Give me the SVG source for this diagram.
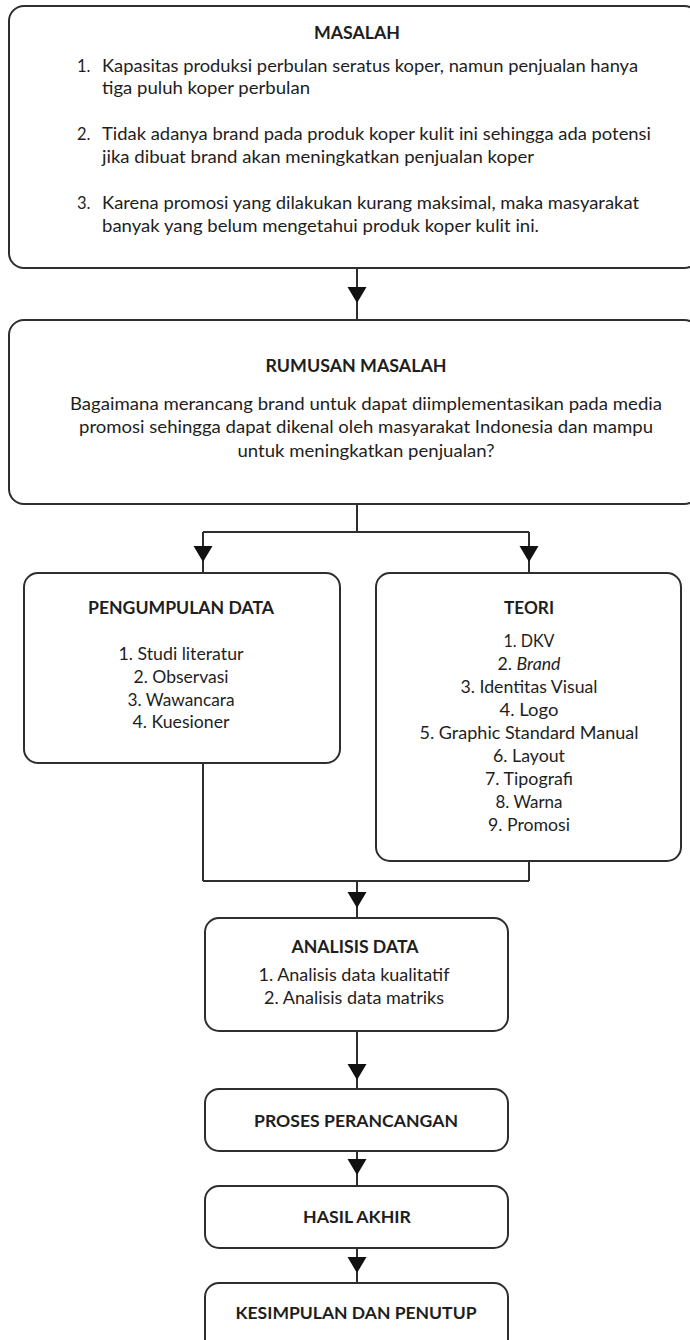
<svg xmlns="http://www.w3.org/2000/svg" xmlns:xlink="http://www.w3.org/1999/xlink" width="690" height="1340" viewBox="0 0 690 1340">
<style>
.box{fill:#fff;stroke:#2e2e2e;stroke-width:2}
.ln{fill:none;stroke:#2e2e2e;stroke-width:2}
.ah{fill:#111}
text{font-family:Lato,"Open Sans","Liberation Sans",sans-serif;fill:#1e1e1e}
.t{font-weight:bold;font-size:16.5px;text-anchor:middle}
.b{font-size:16.5px}
.c{font-size:16.5px;text-anchor:middle}
.c2{font-size:17px;text-anchor:middle}
</style>
<defs>
<path id="arrow" class="ah" d="M-9.5,-16 L9.5,-16 L0,0 Z"/>
</defs>
<rect width="690" height="1340" fill="#fff"/>

<g id="connectors">
<path class="ln" d="M357,268 V320"/>
<use xlink:href="#arrow" x="357" y="303"/>
<path class="ln" d="M357,504 V532 M203,532 H529 M203,532 V573 M529,532 V573"/>
<use xlink:href="#arrow" x="203" y="562"/>
<use xlink:href="#arrow" x="529" y="562"/>
<path class="ln" d="M203,763 V881 M529,861 V881 M203,881 H529 M357,881 V918"/>
<use xlink:href="#arrow" x="357" y="908"/>
<path class="ln" d="M357,1031 V1089"/>
<use xlink:href="#arrow" x="357" y="1080"/>
<path class="ln" d="M357,1151 V1186"/>
<use xlink:href="#arrow" x="357" y="1175"/>
<path class="ln" d="M357,1248 V1283"/>
<use xlink:href="#arrow" x="357" y="1273"/>
</g>

<g id="masalah">
<rect class="box" x="9" y="6" width="690" height="262" rx="15"/>
<text class="t" x="357" y="39" textLength="86" lengthAdjust="spacingAndGlyphs">MASALAH</text>
<text class="b" x="77" y="72">1.</text>
<text class="b" x="102" y="72" textLength="536" lengthAdjust="spacingAndGlyphs">Kapasitas produksi perbulan seratus koper, namun penjualan hanya</text>
<text class="b" x="102" y="94" textLength="208" lengthAdjust="spacingAndGlyphs">tiga puluh koper perbulan</text>
<text class="b" x="77" y="140">2.</text>
<text class="b" x="102" y="140" textLength="549" lengthAdjust="spacingAndGlyphs">Tidak adanya brand pada produk koper kulit ini sehingga ada potensi</text>
<text class="b" x="102" y="163" textLength="432" lengthAdjust="spacingAndGlyphs">jika dibuat brand akan meningkatkan penjualan koper</text>
<text class="b" x="77" y="209">3.</text>
<text class="b" x="102" y="209" textLength="537" lengthAdjust="spacingAndGlyphs">Karena promosi yang dilakukan kurang maksimal, maka masyarakat</text>
<text class="b" x="102" y="232" textLength="437" lengthAdjust="spacingAndGlyphs">banyak yang belum mengetahui produk koper kulit ini.</text>
</g>

<g id="rumusan">
<rect class="box" x="9" y="320" width="690" height="184" rx="15"/>
<text class="t" x="356" y="372" textLength="181" lengthAdjust="spacingAndGlyphs">RUMUSAN MASALAH</text>
<text class="c" x="366" y="410" textLength="592" lengthAdjust="spacingAndGlyphs">Bagaimana merancang brand untuk dapat diimplementasikan pada media</text>
<text class="c" x="366" y="433" textLength="574" lengthAdjust="spacingAndGlyphs">promosi sehingga dapat dikenal oleh masyarakat Indonesia dan mampu</text>
<text class="c" x="366" y="457" textLength="257" lengthAdjust="spacingAndGlyphs">untuk meningkatkan penjualan?</text>
</g>

<g id="pengumpulan">
<rect class="box" x="24" y="573" width="316" height="190" rx="14"/>
<text class="t" x="181" y="614" textLength="186" lengthAdjust="spacingAndGlyphs">PENGUMPULAN DATA</text>
<text class="c" x="181" y="660" textLength="125" lengthAdjust="spacingAndGlyphs">1. Studi literatur</text>
<text class="c" x="181" y="683" textLength="95" lengthAdjust="spacingAndGlyphs">2. Observasi</text>
<text class="c" x="181" y="706" textLength="107" lengthAdjust="spacingAndGlyphs">3. Wawancara</text>
<text class="c" x="181" y="728" textLength="97" lengthAdjust="spacingAndGlyphs">4. Kuesioner</text>
</g>

<g id="teori">
<rect class="box" x="376" y="573" width="305" height="288" rx="14"/>
<text class="t" x="529" y="614" textLength="50" lengthAdjust="spacingAndGlyphs">TEORI</text>
<text class="c" x="529" y="647" textLength="51" lengthAdjust="spacingAndGlyphs">1. DKV</text>
<text class="c" x="529" y="670" textLength="63" lengthAdjust="spacingAndGlyphs">2. <tspan font-style="italic">Brand</tspan></text>
<text class="c" x="529" y="693" textLength="137" lengthAdjust="spacingAndGlyphs">3. Identitas Visual</text>
<text class="c" x="529" y="716" textLength="59" lengthAdjust="spacingAndGlyphs">4. Logo</text>
<text class="c" x="529" y="739" textLength="219" lengthAdjust="spacingAndGlyphs">5. Graphic Standard Manual</text>
<text class="c" x="529" y="762" textLength="72" lengthAdjust="spacingAndGlyphs">6. Layout</text>
<text class="c" x="529" y="785" textLength="88" lengthAdjust="spacingAndGlyphs">7. Tipografi</text>
<text class="c" x="529" y="808" textLength="67" lengthAdjust="spacingAndGlyphs">8. Warna</text>
<text class="c" x="529" y="831" textLength="82" lengthAdjust="spacingAndGlyphs">9. Promosi</text>
</g>

<g id="analisis">
<rect class="box" x="205" y="918" width="303" height="113" rx="14"/>
<text class="t" x="355" y="953" font-size="17" textLength="127" lengthAdjust="spacingAndGlyphs">ANALISIS DATA</text>
<text class="c2" x="354" y="981" textLength="191" lengthAdjust="spacingAndGlyphs">1. Analisis data kualitatif</text>
<text class="c2" x="354" y="1004" textLength="180" lengthAdjust="spacingAndGlyphs">2. Analisis data matriks</text>
</g>

<g id="proses">
<rect class="box" x="205" y="1089" width="303" height="62" rx="14"/>
<text class="t" x="356" y="1127" style="font-size:17.5px" textLength="204" lengthAdjust="spacingAndGlyphs">PROSES PERANCANGAN</text>
</g>

<g id="hasil">
<rect class="box" x="205" y="1186" width="303" height="62" rx="14"/>
<text class="t" x="357" y="1223" style="font-size:17.5px" textLength="108" lengthAdjust="spacingAndGlyphs">HASIL AKHIR</text>
</g>

<g id="kesimpulan">
<rect class="box" x="205" y="1283" width="303" height="70" rx="14"/>
<text class="t" x="356" y="1319" style="font-size:17px" textLength="241" lengthAdjust="spacingAndGlyphs">KESIMPULAN DAN PENUTUP</text>
</g>
</svg>
